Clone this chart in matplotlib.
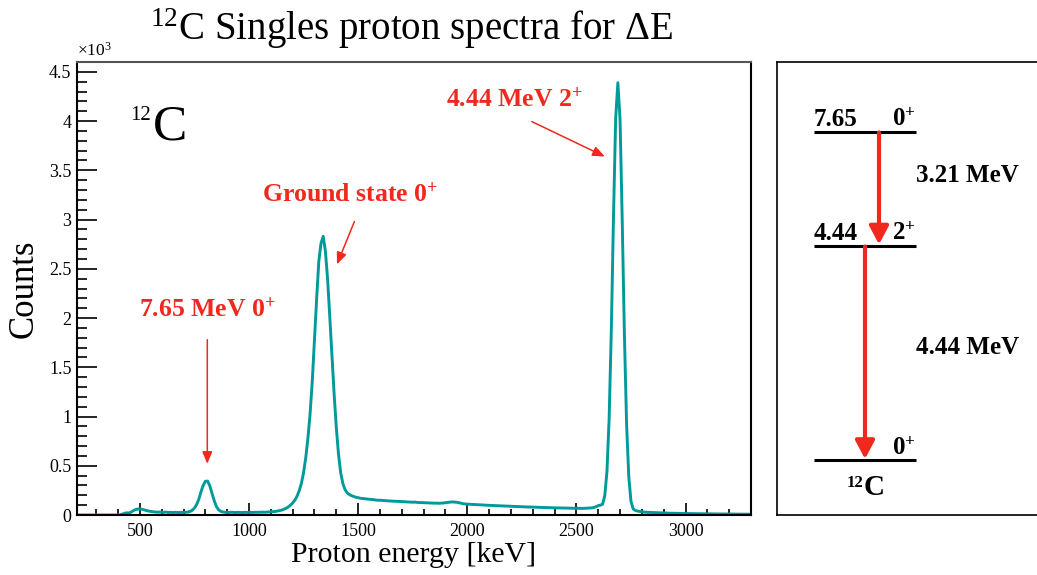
import matplotlib.pyplot as plt
import numpy as np
from matplotlib.ticker import MultipleLocator, FixedLocator, FuncFormatter

plt.rcParams['font.family'] = ['Liberation Serif', 'DejaVu Serif']
plt.rcParams['mathtext.default'] = 'regular'

### SPECTRUM : counts per 10 keV bin ###
energy_kev = np.arange(210, 3301, 10)
counts = np.array([
    0, 0, 0, 0, 0, 0, 0, 0, 0, 0,                              # 210-300
    0, 0, 0, 0, 0, 0, 0, 0, 0, 0,                              # 310-400
    2, 8, 18, 22, 20, 30, 44, 55, 60, 63,                      # 410-500
    58, 52, 46, 40, 36, 33, 31, 29, 30, 28,                    # 510-600
    27, 29, 26, 27, 25, 27, 26, 25, 27, 26,                    # 610-700
    28, 30, 36, 48, 70, 105, 160, 235, 300, 342,               # 710-800
    345, 300, 225, 150, 90, 55, 38, 31, 28, 27,                # 810-900
    26, 28, 26, 25, 27, 26, 25, 27, 26, 25,                    # 910-1000
    27, 26, 28, 27, 28, 29, 28, 30, 31, 32,                    # 1010-1100
    34, 36, 40, 44, 50, 58, 68, 82, 100, 122,                  # 1110-1200
    150, 190, 245, 320, 430, 580, 780, 1030, 1360, 1780,       # 1210-1300
    2200, 2580, 2760, 2830, 2680, 2400, 2020, 1620, 1230, 890, # 1310-1400
    620, 430, 320, 258, 225, 208, 196, 188, 180, 176,          # 1410-1500
    170, 168, 165, 162, 160, 158, 156, 152, 150, 150,          # 1510-1600
    148, 146, 145, 143, 142, 140, 141, 138, 137, 136,          # 1610-1700
    135, 133, 132, 131, 130, 131, 128, 127, 126, 126,          # 1710-1800
    124, 123, 122, 121, 120, 121, 119, 120, 122, 125,          # 1810-1900
    128, 131, 133, 132, 130, 126, 120, 115, 112, 110,          # 1910-2000
    109, 108, 106, 105, 104, 103, 102, 100, 99, 98,            # 2010-2100
    97, 96, 95, 94, 93, 92, 91, 90, 89, 88,                    # 2110-2200
    87, 86, 86, 85, 84, 83, 82, 82, 81, 80,                    # 2210-2300
    79, 78, 78, 77, 76, 76, 75, 74, 74, 73,                    # 2310-2400
    72, 72, 71, 71, 70, 70, 69, 69, 68, 68,                    # 2410-2500
    68, 67, 67, 68, 68, 70, 72, 76, 84, 95,                    # 2510-2600
    100, 110, 195, 440, 975, 1875, 3030, 4030, 4390, 4020,     # 2610-2700
    2990, 1830, 925, 390, 140, 62, 46, 40, 36, 33,             # 2710-2800
    29, 28, 27, 26, 25, 24, 23, 22, 21, 20,                    # 2810-2900
    19, 19, 18, 18, 17, 17, 16, 16, 15, 15,                    # 2910-3000
    15, 14, 14, 14, 13, 13, 13, 12, 12, 12,                    # 3010-3100
    12, 11, 11, 11, 11, 10, 10, 10, 10, 10,                    # 3110-3200
    10, 9, 9, 9, 9, 9, 8, 8, 8, 8,                             # 3210-3300
])

### PEAK LABELS ###
peak_labels = ["7.65 MeV 0$^{+}$", "Ground state 0$^{+}$", "4.44 MeV 2$^{+}$"]
peak_text_pos = [(808, 2090), (1462, 3250), (1903, 4215)]
peak_text_ha = ['center', 'center', 'left']
peak_arrow_tail = [(809, 1780), (1483, 2980), (2296, 3995)]
peak_arrow_head = [(809, 520), (1403, 2545), (2630, 3640)]

### LEVEL SCHEME ###
level_energy = ["7.65", "4.44", ""]
level_spin = ["0$^{+}$", "2$^{+}$", "0$^{+}$"]
gamma_labels = ["3.21 MeV", "4.44 MeV"]

line_color = '#009a9a'
red = '#f0281e'

fig = plt.figure(figsize=(10.37, 5.75), dpi=100)
W, H = 1037.0, 575.0

# ---------------- spectrum panel ----------------
ax = fig.add_axes([77 / W, 1 - 515 / H, 674 / W, 453 / H])
ax.plot(energy_kev, counts, color=line_color, lw=2.1)
ax.set_xlim(212, 3300)
ax.set_ylim(0, 4600)

ax.xaxis.set_major_locator(FixedLocator([500, 1000, 1500, 2000, 2500, 3000]))
ax.xaxis.set_minor_locator(MultipleLocator(100))
ax.yaxis.set_major_locator(MultipleLocator(500))
ax.yaxis.set_minor_locator(MultipleLocator(100))
ax.yaxis.set_major_formatter(FuncFormatter(lambda v, p: f"{v / 1000:g}"))
ax.tick_params(axis='both', which='both', direction='in', top=False, right=False,
               labelsize=13, width=1.2)
ax.tick_params(axis='x', which='major', length=8.6, pad=6)
ax.tick_params(axis='x', which='minor', length=4.3)
ax.tick_params(axis='y', which='major', length=14.4, pad=4)
ax.tick_params(axis='y', which='minor', length=7.2)
for s in ax.spines.values():
    s.set_linewidth(1.5)
ax.spines['top'].set_color('#555555')

ax.set_xlabel("Proton energy [keV]", fontsize=21.5, labelpad=1)
ax.set_ylabel("Counts", fontsize=25, labelpad=6)
ax.text(0.0, 1.004, "\u00d710$^{3}$", transform=ax.transAxes, fontsize=12.5,
        ha='left', va='bottom')

ax.text(0.079, 0.902, "12", transform=ax.transAxes, fontsize=15, va='top')
ax.text(0.113, 0.828, "C", transform=ax.transAxes, fontsize=37, va='baseline')

for lab, pos, ha, tail, head in zip(peak_labels, peak_text_pos, peak_text_ha,
                                    peak_arrow_tail, peak_arrow_head):
    ax.text(pos[0], pos[1], lab, color=red, fontsize=18.5, fontweight='bold',
            ha=ha, va='center')
    ax.annotate('', xy=head, xytext=tail,
                arrowprops=dict(arrowstyle='-|>,head_length=0.6,head_width=0.25',
                                color=red, lw=1.1, mutation_scale=12,
                                shrinkA=0, shrinkB=0))

fig.text(412 / W, 1 - 29 / H, "$^{12}$C Singles proton spectra for \u0394E",
         fontsize=28, ha='center', va='center')

# ---------------- level scheme panel ----------------
lx = fig.add_axes([777 / W, 1 - 515 / H, 263 / W, 453 / H])
lx.set_xlim(0, 263)
lx.set_ylim(0, 453)
lx.set_xticks([])
lx.set_yticks([])
for s in lx.spines.values():
    s.set_linewidth(1.2)

level_y = [383.5, 269.5, 55]
gamma_label_y = [339, 167]
x0, x1 = 37, 139
for e, sp, y in zip(level_energy, level_spin, level_y):
    lx.plot([x0, x1], [y, y], color='black', lw=2.2, solid_capstyle='butt')
    if e:
        lx.text(x0, y + 5, e, fontsize=18, fontweight='bold', ha='left', va='baseline')
    lx.text(x1, y + 5, sp, fontsize=18, fontweight='bold', ha='right', va='baseline')

arrow_x = [102, 88]
for i, (xa, lab) in enumerate(zip(arrow_x, gamma_labels)):
    lx.annotate('', xy=(xa, level_y[i + 1] + 1), xytext=(xa, level_y[i] - 1),
                arrowprops=dict(arrowstyle='-|>,head_length=11,head_width=5.8',
                                color=red, lw=3, mutation_scale=1,
                                shrinkA=0, shrinkB=0))
    lx.text(x1, gamma_label_y[i], lab, fontsize=18,
            fontweight='bold', ha='left', va='center')

lx.text(86, 40, "12", fontsize=12, fontweight='bold', ha='right', va='top')
lx.text(87, 41, "C", fontsize=21, fontweight='bold', ha='left', va='top')

fig.savefig("out.png", dpi=100)
